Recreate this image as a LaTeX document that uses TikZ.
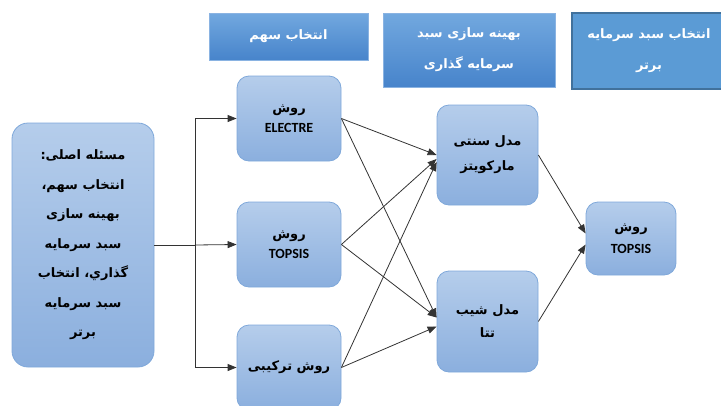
\documentclass[tikz,border=0pt]{standalone}
\usepackage{fontspec}
\setmainfont{Carlito}
\newfontfamily\fa[Script=Arabic]{DejaVu Sans}
\TeXXeTstate=1
\usetikzlibrary{arrows.meta,calc}
\newcommand\pers[1]{{\fa\bfseries\beginR #1\endR}}
\definecolor{boxtop}{HTML}{B5CDEB}
\definecolor{boxbot}{HTML}{8BAFDE}
\definecolor{boxline}{HTML}{7FA8DA}
\definecolor{headtop}{HTML}{72A8DF}
\definecolor{headbot}{HTML}{4784CB}
\definecolor{headline}{HTML}{8AB3E2}
\definecolor{hthree}{HTML}{5B9BD5}
\definecolor{hthreeline}{HTML}{41719C}
\definecolor{linecol}{HTML}{333333}
\tikzset{
  box/.style={draw=boxline, line width=0.8pt, rounded corners=12pt,
    top color=boxtop, bottom color=boxbot, align=center, inner sep=0pt,
    font=\bfseries\fontsize{13}{20}\selectfont},
  head/.style={draw=headline, line width=0.5pt, top color=headtop,
    bottom color=headbot, text=white, align=center, inner sep=0pt,
    font=\bfseries\fontsize{13}{31}\selectfont},
  conn/.style={draw=linecol, line width=0.8pt, -{Triangle[length=9pt,width=7pt]}},
}
\begin{document}
\begin{tikzpicture}[x=1pt,y=-1pt]
\useasboundingbox (0,0) rectangle (721,405);
% headers
\node[head, minimum width=159pt, minimum height=47pt] (h1) at (288.5,36.5) {\pers{انتخاب سهم}};
\node[head, minimum width=172pt, minimum height=74pt] (h2) at (469,50) {\pers{بهینه سازی سبد}\\\pers{سرمایه گذاری}};
\node[head, draw=hthreeline, line width=1.2pt, top color=hthree, bottom color=hthree, minimum width=154pt, minimum height=76pt] (h3) at (649,51) {\pers{انتخاب سبد سرمایه}\\\pers{برتر}};
% main box
\node[box, rounded corners=16pt, minimum width=142pt, minimum height=244pt, font=\bfseries\fontsize{13}{29.5}\selectfont] (main) at (83,245)
 {\pers{مسئله اصلی:}\\\pers{انتخاب سهم،}\\\pers{بهینه سازی}\\\pers{سبد سرمایه}\\\pers{گذاري، انتخاب}\\\pers{سبد سرمایه}\\\pers{برتر}};
% method boxes
\node[box, minimum width=104pt, minimum height=85pt] (e) at (289,118.5) {\pers{روش}\\{\fontsize{14}{21}\selectfont ELECTRE}};
\node[box, minimum width=104pt, minimum height=85pt] (t) at (289,244.5) {\pers{روش}\\{\fontsize{14}{21}\selectfont TOPSIS}};
\node[box, minimum width=104pt, minimum height=85pt] (k) at (289,367.5) {\pers{روش ترکیبی}};
% models
\node[box, minimum width=101pt, minimum height=100pt, font=\bfseries\fontsize{13}{25}\selectfont] (m) at (487.5,155) {\pers{مدل سنتی}\\\pers{مارکویتز}};
\node[box, minimum width=101pt, minimum height=101pt, font=\bfseries\fontsize{13}{23}\selectfont] (th) at (487.5,321.5) {\pers{مدل شیب}\\\pers{تتا}};
% final
\node[box, minimum width=90pt, minimum height=73pt, font=\bfseries\fontsize{13}{22}\selectfont] (r) at (631,238.5) {\pers{روش}\\{\fontsize{14}{22}\selectfont TOPSIS}};
% connectors
\coordinate (j) at (195,245);
\draw[draw=linecol, line width=0.8pt] (main.east) -- (j);
\draw[conn] (j) |- (e.west);
\draw[conn] (j) -- (t.west);
\draw[conn] (j) |- (k.west);
\draw[conn] (e.east) -- ($(m.west)+(0,0)$);
\draw[conn] (t.east) -- ($(m.west)+(0,4)$);
\draw[conn] (k.east) -- ($(m.west)+(0,7)$);
\draw[conn] (e.east) -- ($(th.west)+(0,-4)$);
\draw[conn] (t.east) -- ($(th.west)+(0,-4)$);
\draw[conn] (k.east) -- ($(th.west)+(0,5)$);
\draw[conn] (m.east) -- ($(r.west)+(0,-5)$);
\draw[conn] (th.east) -- ($(r.west)+(0,6)$);
\end{tikzpicture}
\end{document}
